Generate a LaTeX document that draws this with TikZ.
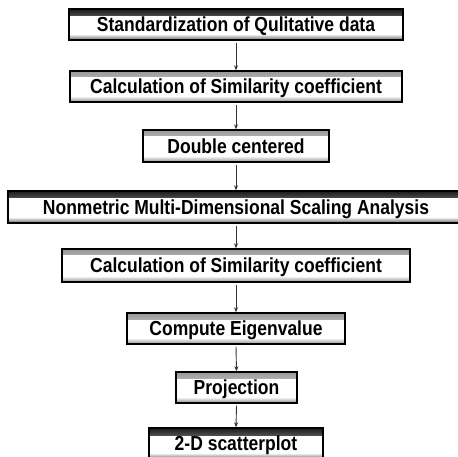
\documentclass[tikz,border=0pt]{standalone}
\usepackage{fontspec}
\usepackage{graphicx}
\setmainfont{Liberation Sans}
\usetikzlibrary{arrows.meta}
\colorlet{lighttop}{black!40}
\colorlet{lightbot}{black!45}
\colorlet{darktop}{black!90}
\colorlet{darkbot}{black!60}
\newcommand{\tallword}[1]{\scalebox{1}[1.16]{#1}}
\begin{document}
\begin{tikzpicture}[x=1pt,y=1pt,
  basebox/.style={draw=black, line width=1.4pt, fill=white, minimum height=31pt, inner sep=0pt,
    text height=14.4pt, text depth=0pt,
    font=\fontsize{17.5}{20}\selectfont\bfseries},
  flowbox/.style={basebox, path picture={
    \shade[top color=lighttop, bottom color=white] (path picture bounding box.north west) rectangle ([yshift=-6pt]path picture bounding box.north east);
    \shade[top color=white, bottom color=lightbot] ([yshift=6pt]path picture bounding box.south west) rectangle (path picture bounding box.south east);}},
  darkflow/.style={basebox, path picture={
    \shade[top color=darktop, bottom color=white] (path picture bounding box.north west) rectangle ([yshift=-7pt]path picture bounding box.north east);
    \shade[top color=white, bottom color=darkbot] ([yshift=6pt]path picture bounding box.south west) rectangle (path picture bounding box.south east);}},
  flowarrow/.style={draw=black!80, line width=0.9pt, -{Stealth[length=5pt,width=4pt]}}]
\useasboundingbox (0,0) rectangle (458,-457);
\fill[white] (0,0) rectangle (458,-457);
\node[darkflow, minimum width=334pt] (b1) at (236,-24.5) {\tallword{Standardization of Qulitative data}};
\node[flowbox, minimum width=332pt] (b2) at (236,-86.5) {\tallword{Calculation of Similarity coefficient}};
\node[flowbox, minimum width=186pt, minimum height=32pt] (b3) at (236,-146) {\tallword{Double centered}};
\node[darkflow, minimum width=456pt, minimum height=32pt] (b4) at (236,-207) {\tallword{Nonmetric Multi-Dimensional Scaling Analysis}};
\node[flowbox, minimum width=348pt, minimum height=33pt] (b5) at (236,-265.5) {\tallword{Calculation of Similarity coefficient}};
\node[flowbox, minimum width=218pt] (b6) at (236,-328.5) {\tallword{Compute Eigenvalue}};
\node[flowbox, minimum width=121pt] (b7) at (236.5,-387.5) {\tallword{Projection}};
\node[darkflow, minimum width=174pt] (b8) at (236,-443.5) {\tallword{2-D scatterplot}};
\foreach \a/\b in {b1/b2,b2/b3,b3/b4,b4/b5,b5/b6,b6/b7,b7/b8}
  \draw[flowarrow] ([yshift=-2pt]\a.south) -- (\b.north);
\end{tikzpicture}
\end{document}
